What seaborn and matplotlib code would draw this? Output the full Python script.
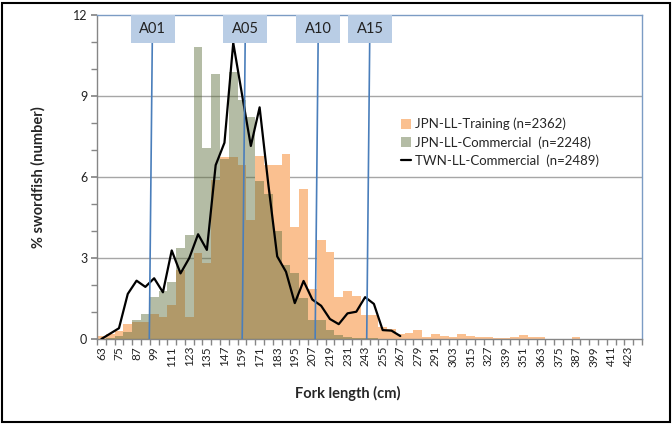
import numpy as np
import pandas as pd
import matplotlib
matplotlib.use('Agg')
import matplotlib.pyplot as plt
import seaborn as sns
from matplotlib.patches import Rectangle, Patch
from matplotlib.lines import Line2D

# Estilo general
sns.set_theme(style='white')
plt.rcParams['font.family'] = ['Lato', 'DejaVu Sans']
plt.rcParams['axes.grid'] = False

# Clases de talla (cm)
fork_length = list(range(63, 430, 6))

# % de peces por clase de talla
jpn_training = [0.1, 0.2, 0.3, 0.55, 0.64, 0.64, 0.91, 0.83, 1.26, 2.56,
                0.82, 3.17, 2.8, 5.89, 6.75, 6.75, 6.44, 4.4, 6.79, 6.44,
                6.44, 6.84, 4.16, 5.56, 1.85, 3.67, 3.22, 1.55, 1.78, 1.58,
                0.89, 0.89, 0.45, 0.38, 0.17, 0.23, 0.32, 0.06, 0.2, 0.11,
                0.06, 0.2, 0.12, 0.07, 0.06, 0.04, 0.04, 0.07, 0.15, 0.07,
                0.07, 0, 0, 0, 0.07, 0, 0, 0, 0, 0, 0, 0]
jpn_commercial = [0, 0.05, 0.12, 0.25, 0.7, 0.93, 1.56, 1.77, 2.12, 3.37,
                  3.85, 10.83, 7.09, 9.8, 6.65, 9.9, 8.85, 8.23, 5.87, 5.36,
                  3.99, 2.75, 2.44, 1.53, 0.7, 0.7, 0.33, 0.16, 0.09, 0.05,
                  0.04, 0.03, 0, 0, 0, 0, 0, 0, 0, 0,
                  0, 0, 0, 0, 0, 0, 0, 0, 0, 0,
                  0, 0, 0, 0, 0, 0, 0, 0, 0, 0, 0, 0]
twn_commercial = [0, 0.2, 0.4, 1.67, 2.16, 1.93, 2.25, 1.73, 3.28, 2.43,
                  3.0, 3.88, 3.3, 6.44, 7.27, 10.97, 9.05, 7.15, 8.58, 5.7,
                  3.06, 2.49, 1.33, 2.15, 1.46, 1.23, 0.74, 0.55, 0.95, 1.01,
                  1.55, 1.3, 0.33, 0.31, 0.11]

series_labels = ['JPN-LL-Training (n=2362)',
                 'JPN-LL-Commercial  (n=2248)',
                 'TWN-LL-Commercial  (n=2489)']

# Tallas de referencia por edad
age_names = ['A01', 'A05', 'A10', 'A15']
age_lengths = [95.7, 159.1, 208.9, 244.1]

y_grid = [3, 6, 9]

col_orange = '#fac090'
col_green = '#5c6d3b'
green_alpha = 0.46
col_blue = '#4a7ebb'
col_box = '#b9cde5'
col_axis = '#868686'


def main():
    fig = plt.figure(figsize=(6.72, 4.24), dpi=100)
    ax = fig.add_axes([97 / 672, 1 - 339 / 424, 545 / 672, 324 / 424])

    df = pd.DataFrame({'talla': [str(v) for v in fork_length],
                       'training': jpn_training,
                       'commercial': jpn_commercial})

    sns.barplot(data=df, x='talla', y='training', color=col_orange,
                saturation=1, width=1.0, linewidth=0, edgecolor='none',
                errorbar=None, ax=ax, zorder=2, antialiased=False)
    sns.barplot(data=df, x='talla', y='commercial', color=col_green,
                saturation=1, width=1.0, linewidth=0, edgecolor='none',
                errorbar=None, ax=ax, alpha=green_alpha, zorder=3,
                antialiased=False)
    sns.lineplot(x=np.arange(len(twn_commercial)), y=twn_commercial,
                 color='black', linewidth=1.6, ax=ax, zorder=5)

    # Ejes
    ax.set_xlim(-0.5, len(fork_length) - 0.5)
    ax.set_ylim(0, 12)
    ax.set_xticks(np.arange(0, len(fork_length), 2))
    ax.set_xticklabels([str(v) for v in fork_length[::2]])
    ax.set_xticks(np.arange(-0.5, len(fork_length), 1), minor=True)
    ax.set_yticks([0, 3, 6, 9, 12])
    ax.set_yticks(np.arange(0, 13, 1), minor=True)
    ax.tick_params(axis='x', which='major', length=0, rotation=90,
                   labelsize=8.5, pad=5, labelcolor='#222222')
    ax.tick_params(axis='x', which='minor', bottom=True, length=4,
                   color=col_axis, direction='out')
    ax.tick_params(axis='y', which='both', left=True, length=4,
                   color=col_axis, direction='out', labelsize=9, pad=3,
                   labelcolor='#222222')
    ax.set_xlabel('')
    ax.set_ylabel('')
    ax.grid(False, which='both')
    for g in y_grid:
        ax.axhline(g, color='#a6a6a6', linewidth=1, zorder=1)
    for lado in ['top', 'right']:
        ax.spines[lado].set_color('#7b9cc4')
    for lado in ['left', 'bottom']:
        ax.spines[lado].set_color(col_axis)
    for s in ax.spines.values():
        s.set_linewidth(1)

    # Lineas de edad con etiquetas
    tilt = 0.37
    for nombre, talla in zip(age_names, age_lengths):
        xb = (talla - fork_length[0]) / 6
        ax.plot([xb, xb + tilt], [0, 12], color=col_blue, linewidth=1.2, zorder=6)
        ax.add_patch(Rectangle((xb + tilt - 2.5, 10.97), 5.0, 1.03,
                               facecolor=col_box, edgecolor='none', zorder=7))
        ax.text(xb + tilt, 11.48, nombre, ha='center', va='center',
                fontsize=10.5, color='#222222', zorder=8)

    # Leyenda
    handles = [Patch(facecolor=col_orange, edgecolor='none'),
               Patch(facecolor=col_green, alpha=green_alpha, edgecolor='none'),
               Line2D([], [], color='black', linewidth=1.6)]
    fig.legend(handles, series_labels, loc='upper left',
               bbox_to_anchor=(394 / 672, 1 - 111 / 424), frameon=False,
               fontsize=9.5, handlelength=0.8, handleheight=0.8,
               handletextpad=0.3, labelspacing=0.45, borderpad=0)

    # Titulos de ejes
    fig.text(347.5 / 672, 1 - 393 / 424, 'Fork length (cm)', ha='center',
             va='center', fontsize=10.5, fontweight='bold')
    fig.text(38 / 672, 1 - 177.5 / 424, '% swordfish (number)', ha='center',
             va='center', rotation=90, fontsize=10.5, fontweight='bold')

    # Marco exterior
    fig.patches.append(Rectangle((2 / 672, 2 / 424), 668 / 672, 419 / 424,
                                 transform=fig.transFigure, fill=False,
                                 edgecolor='black', linewidth=1.5))

    fig.savefig('out.png', dpi=100)
    plt.close(fig)


if __name__ == '__main__':
    main()
